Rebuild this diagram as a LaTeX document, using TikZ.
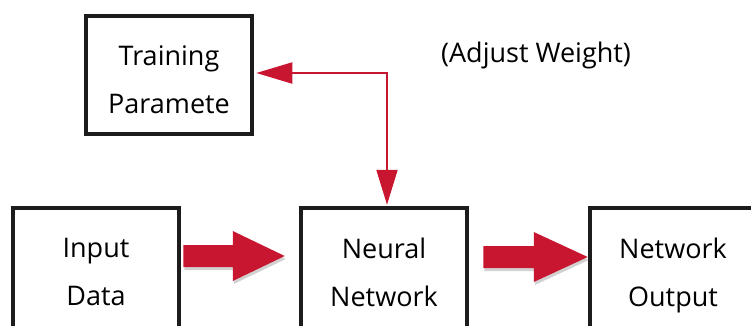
\documentclass[tikz,border=0pt]{standalone}
\usepackage{fontspec}
\setmainfont{Open Sans}
\usetikzlibrary{arrows.meta,calc}
\definecolor{arrred}{RGB}{200,22,48}
\definecolor{boxline}{RGB}{28,28,28}
\begin{document}
\begin{tikzpicture}[x=1pt,y=1pt,
  box/.style={draw=boxline, line width=4.5pt, minimum width=166pt, align=center,
    font=\fontsize{27}{48}\selectfont, inner sep=0pt},
  lbl/.style={font=\fontsize{27}{32}\selectfont, inner sep=0pt, align=center},
  conn/.style={draw=arrred, line width=2pt},
  block/.style={fill=arrred},
  shade/.style={fill=black, opacity=0.18}]
\useasboundingbox (0,0) rectangle (751,325);
\clip (0,0) rectangle (751,325);
% boxes
\node[box, minimum height=118pt] (tp) at (169,250) {};
\node[lbl, font=\fontsize{27}{48}\selectfont] (tpt) at (169,245) {Training\\Paramete};
\node[box, minimum height=128pt] (in) at (96,53) {Input\\Data};
\node[box, minimum height=128pt] (nn) at (384,53) {Neural\\Network};
\node[box, minimum height=128pt] (out) at (673,53) {Network\\\smash{Output}};
\node[lbl] (adj) at (536,270) {(Adjust Weight)};
% feedback connector
\coordinate (tpin) at ($(tp.east)+(2,2)$);
\coordinate (nnin) at ($(nn.north)+(3,1)$);
\draw[conn, {Triangle[length=36pt,width=21pt]}-{Triangle[length=35pt,width=21pt]}] (tpin) -| (nnin);
% block arrow 1
\coordinate (a1s) at ($(in.east)+(2,16)$);
\coordinate (a1t) at ($(nn.west)+(-14,16)$);
\fill[shade] ($(a1s)+(1,8)$) -- ($(a1t)+(-51,8)$) -- ($(a1t)+(-51,22)$) -- ($(a1t)+(1,-3)$) -- ($(a1t)+(-51,-28)$) -- ($(a1t)+(-51,-14)$) -- ($(a1s)+(1,-14)$) -- cycle;
\fill[block] ($(a1s)+(0,11)$) -- ($(a1t)+(-52,11)$) -- ($(a1t)+(-52,25)$) -- (a1t) -- ($(a1t)+(-52,-25)$) -- ($(a1t)+(-52,-11)$) -- ($(a1s)+(0,-11)$) -- cycle;
% block arrow 2
\coordinate (a2s) at ($(nn.east)+(14,15)$);
\coordinate (a2t) at ($(out.west)+(0,15)$);
\fill[shade] ($(a2s)+(1,8)$) -- ($(a2t)+(-53,8)$) -- ($(a2t)+(-53,22)$) -- ($(a2t)+(1,-3)$) -- ($(a2t)+(-53,-28)$) -- ($(a2t)+(-53,-14)$) -- ($(a2s)+(1,-14)$) -- cycle;
\fill[block] ($(a2s)+(0,11)$) -- ($(a2t)+(-54,11)$) -- ($(a2t)+(-54,25)$) -- (a2t) -- ($(a2t)+(-54,-25)$) -- ($(a2t)+(-54,-11)$) -- ($(a2s)+(0,-11)$) -- cycle;
\end{tikzpicture}
\end{document}
